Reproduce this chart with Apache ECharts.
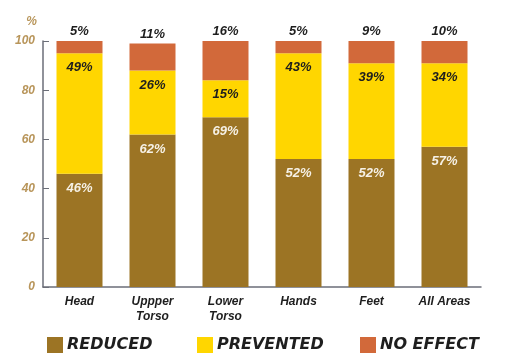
<!DOCTYPE html>
<html>
<head>
<meta charset="utf-8">
<script src="https://cdn.jsdelivr.net/npm/echarts@6/dist/echarts.min.js"></script>
<style>html,body{margin:0;padding:0;background:#fff}#c{width:509px;height:358px}</style>
</head>
<body>
<div id="c"></div>
<script>
var categories = ['Head', 'Uppper\nTorso', 'Lower\nTorso', 'Hands', 'Feet', 'All Areas'];
var reduced = [46, 62, 69, 52, 52, 57];
var prevented = [49, 26, 15, 43, 39, 34];
var noEffect = [5, 11, 16, 5, 9, 10];
var seriesNames = ['REDUCED', 'PREVENTED', 'NO EFFECT'];
var yTicks = [0, 20, 40, 60, 80, 100];

var chart = echarts.init(document.getElementById('c'), null, {renderer: 'canvas'});
var lblFont = {fontFamily: 'Liberation Sans', fontWeight: 'bold', fontStyle: 'italic', fontSize: 13};
var legendLefts = [42, 192, 355];
var legends = seriesNames.map(function (n, i) {
  return {
    bottom: 0, left: legendLefts[i], itemWidth: 16, itemHeight: 16, icon: 'rect',
    textStyle: {fontFamily: 'DejaVu Sans', fontWeight: 'bold', fontStyle: 'italic', fontSize: 16, color: '#1e1e1e', padding: [0, 0, 0, -1]},
    data: [n]
  };
});
chart.setOption({
  animation: false,
  grid: {left: 43, right: 28, top: 41, bottom: 71},
  legend: legends,
  xAxis: {
    type: 'category', data: categories,
    axisLine: {lineStyle: {color: '#6b6e78', width: 1.5}},
    axisTick: {inside: true, length: 6, lineStyle: {color: '#6b6e78'}},
    axisLabel: {margin: 7, color: '#1e1e1e', fontFamily: 'Liberation Sans', fontWeight: 'bold', fontStyle: 'italic', fontSize: 12, lineHeight: 15}
  },
  yAxis: {
    type: 'value', min: 0, max: 100, interval: 20,
    name: '%', nameLocation: 'end', nameGap: 13,
    nameTextStyle: {color: '#b8955a', fontFamily: 'Liberation Sans', fontWeight: 'bold', fontStyle: 'italic', fontSize: 12, align: 'right', padding: [0, 6, 0, 0]},
    axisLine: {show: true, lineStyle: {color: '#6b6e78', width: 1.5}},
    axisTick: {show: true, inside: true, length: 6, lineStyle: {color: '#6b6e78'}},
    splitLine: {show: false},
    axisLabel: {margin: 8, color: '#b8955a', fontFamily: 'Liberation Sans', fontWeight: 'bold', fontStyle: 'italic', fontSize: 12,
      formatter: function (v) { return yTicks.indexOf(v) >= 0 ? String(v) : ''; }}
  },
  series: [
    {name: seriesNames[0], type: 'bar', stack: 'a', data: reduced, barWidth: 46,
     itemStyle: {color: '#9c7424'},
     label: Object.assign({show: true, position: 'insideTop', distance: 8, color: '#f6f1e6', formatter: '{c}%'}, lblFont)},
    {name: seriesNames[1], type: 'bar', stack: 'a', data: prevented, barWidth: 46,
     itemStyle: {color: '#ffd600'},
     label: Object.assign({show: true, position: 'insideTop', distance: 8, color: '#1e1e1e', formatter: '{c}%'}, lblFont)},
    {name: seriesNames[2], type: 'bar', stack: 'a', data: noEffect, barWidth: 46,
     itemStyle: {color: '#d2693a'},
     label: Object.assign({show: true, position: 'top', distance: 3, color: '#1e1e1e', formatter: '{c}%'}, lblFont)}
  ]
});
</script>
</body>
</html>
